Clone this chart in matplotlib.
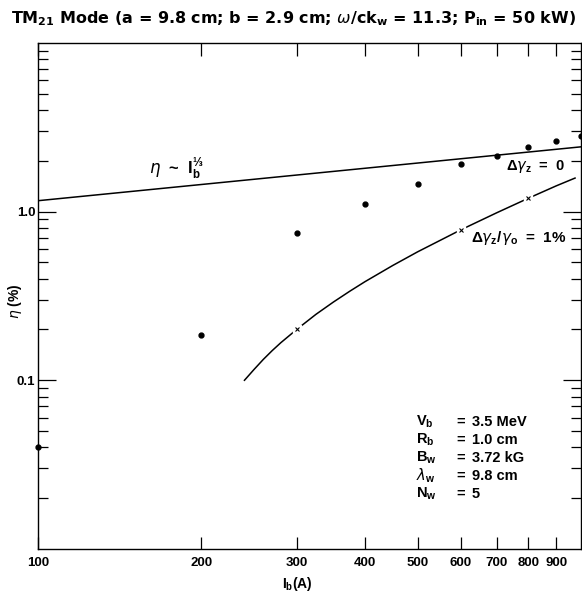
import numpy as np
import matplotlib.pyplot as plt
from matplotlib.ticker import FixedLocator, NullFormatter, LogLocator

plt.rcParams['font.family'] = ['Liberation Sans', 'DejaVu Sans']
plt.rcParams['mathtext.fontset'] = 'custom'
plt.rcParams['mathtext.rm'] = 'Liberation Sans:bold'
plt.rcParams['mathtext.bf'] = 'Liberation Sans:bold'
plt.rcParams['mathtext.it'] = 'DejaVu Sans:italic'

# measured points (dots)
ib_pts = [100, 200, 300, 400, 500, 600, 700, 800, 900, 1000]
eta_pts = [0.040, 0.185, 0.745, 1.11, 1.46, 1.91, 2.14, 2.40, 2.63, 2.81]

# eta ~ Ib^(1/3) line
ib_law = [100, 1000]
eta_law = [1.16, 2.42]

# delta gamma_z / gamma_0 = 1% curve
ib_spread = [240, 250, 260, 270, 280, 300, 325, 350, 375, 400, 450, 500, 600, 700, 800, 900, 975]
eta_spread = [0.100, 0.116, 0.133, 0.150, 0.167, 0.201, 0.246, 0.291, 0.337, 0.384,
              0.479, 0.577, 0.778, 0.985, 1.20, 1.42, 1.58]
ib_x = [300, 600, 800]
eta_x = [0.201, 0.778, 1.20]

xticks = [100, 200, 300, 400, 500, 600, 700, 800, 900]
yticks = [0.1, 1.0]

fig = plt.figure(figsize=(5.82, 5.94), dpi=100)
ax = fig.add_axes([0.0653, 0.0758, 0.933, 0.852])
ax.set_xscale('log')
ax.set_yscale('log')
ax.set_xlim(100, 1000)
ax.set_ylim(0.01, 10)

ax.plot(ib_law, eta_law, color='black', lw=1.1)
ax.plot(ib_spread, eta_spread, color='black', lw=1.1)
ax.plot(ib_x, eta_x, ls='none', marker='s', ms=6, mfc='white', mec='white', zorder=3)
ax.plot(ib_x, eta_x, ls='none', marker='x', ms=3, mew=0.8, color='black', zorder=4)
ax.plot(ib_pts, eta_pts, ls='none', marker='o', ms=3.5, color='black', clip_on=False, zorder=5)

ax.xaxis.set_major_locator(FixedLocator(xticks))
ax.xaxis.set_minor_locator(FixedLocator([]))
ax.set_xticklabels([str(v) for v in xticks])
ax.yaxis.set_major_locator(FixedLocator(yticks))
ax.yaxis.set_minor_locator(LogLocator(base=10, subs=np.arange(2, 10)))
ax.yaxis.set_minor_formatter(NullFormatter())
ax.set_yticklabels(['0.1', '1.0'])

ax.tick_params(which='both', direction='in', top=True, right=True, width=0.9)
ax.tick_params(which='major', axis='y', length=13, pad=2)
ax.tick_params(which='minor', axis='y', length=7)
ax.tick_params(which='major', axis='x', length=9, pad=6)
for lab in ax.get_xticklabels() + ax.get_yticklabels():
    lab.set_fontweight('bold')
    lab.set_fontsize(9.5)
for s in ax.spines.values():
    s.set_linewidth(1.0)

ax.set_xlabel(r'$\mathregular{I_b}$(A)', fontsize=10, fontweight='bold')
ax.xaxis.set_label_coords(0.477, -0.052)
ax.set_ylabel(r'$\eta$ (%)', fontsize=10, fontweight='bold')
ax.yaxis.set_label_coords(-0.026, 0.49)

fig.suptitle(r'TM$_{\mathregular{21}}$ Mode (a = 9.8 cm; b = 2.9 cm; $\omega$/ck$_{\mathregular{w}}$ = 11.3; '
             r'P$_{\mathregular{in}}$ = 50 kW)', x=0.505, y=0.985, fontsize=11.5, fontweight='bold',
             family=['DejaVu Sans'])

ax.text(180, 1.80, r'$\eta$  ~  I$_{\mathregular{b}}^{\mathregular{⅓}}$', fontsize=12,
        fontweight='bold', ha='center', va='center')
ax.text(826, 1.86, r'$\Delta\gamma_{\mathregular{z}}$  =  0', fontsize=10.5,
        fontweight='bold', ha='center', va='center')
ax.text(769, 0.70, r'$\Delta\gamma_{\mathregular{z}}/\gamma_{\mathregular{o}}$  =  1%', fontsize=11,
        fontweight='bold', ha='center', va='center')

params = [(r'V$_{\mathregular{b}}$', '3.5 MeV'), (r'R$_{\mathregular{b}}$', '1.0 cm'),
          (r'B$_{\mathregular{w}}$', '3.72 kG'), (r'$\lambda_{\mathregular{w}}$', '9.8 cm'),
          (r'N$_{\mathregular{w}}$', '5')]
for i, (k, v) in enumerate(params):
    yy = 0.2516 - i * 0.0356
    ax.text(0.696, yy, k, transform=ax.transAxes, fontsize=10.5, fontweight='bold', va='center')
    ax.text(0.771, yy, '=', transform=ax.transAxes, fontsize=10.5, fontweight='bold', va='center')
    ax.text(0.799, yy, v, transform=ax.transAxes, fontsize=10.5, fontweight='bold', va='center')

fig.savefig('out.png', dpi=100)
